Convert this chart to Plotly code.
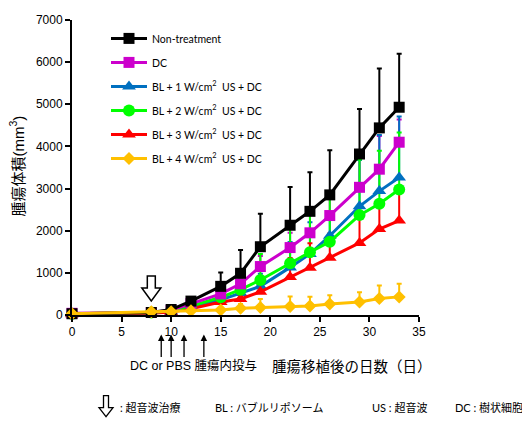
import plotly.graph_objects as go

# ---------------- data ----------------
days = [0, 8, 10, 12, 15, 17, 19, 22, 24, 26, 29, 31, 33]

series_names = [
    "Non-treatment",
    "DC",
    "BL + 1 W/cm<sup>2</sup>  US + DC",
    "BL + 2 W/cm<sup>2</sup>  US + DC",
    "BL + 3 W/cm<sup>2</sup>  US + DC",
    "BL + 4 W/cm<sup>2</sup>  US + DC",
]

nontreat = [30, 60, 130, 330, 680, 990, 1620, 2130, 2460, 2850, 3820, 4440, 4930]
nontreat_err = [0, 20, 30, 90, 330, 550, 780, 910, 930, 1060, 1070, 1410, 1270]

dc = [40, 60, 110, 270, 500, 740, 1150, 1600, 1950, 2360, 3030, 3460, 4100]
dc_err = [0, 15, 25, 60, 100, 150, 250, 350, 450, 550, 670, 790, 540]

bl1 = [30, 50, 90, 180, 360, 520, 680, 1130, 1450, 1880, 2580, 2940, 3260]
bl1_err = [0, 10, 20, 50, 100, 200, 300, 600, 750, 500, 1100, 1330, 1450]

bl2 = [30, 60, 100, 210, 420, 600, 830, 1230, 1490, 1740, 2370, 2640, 2980]
bl2_err = [0, 15, 25, 60, 120, 250, 620, 920, 960, 1160, 1320, 1260, 1350]

bl3 = [20, 40, 70, 150, 310, 380, 550, 900, 1120, 1360, 1710, 2040, 2240]
bl3_err = [0, 10, 20, 40, 100, 150, 340, 450, 580, 575, 660, 590, 740]

bl4 = [30, 80, 80, 100, 120, 160, 180, 200, 215, 260, 310, 390, 430]
bl4_err = [0, 10, 15, 30, 60, 100, 200, 240, 220, 210, 230, 310, 310]

x_ticks = [0, 5, 10, 15, 20, 25, 30, 35]
y_ticks = [0, 1000, 2000, 3000, 4000, 5000, 6000, 7000]

injection_days = [9, 10, 11.3, 13.3]
ultrasound_day = 8

# ---------------- styling ----------------
colors = ["#000000", "#CC00CC", "#0070C0", "#00FF00", "#FF0000", "#FFC000"]
symbols = ["square", "square", "triangle-up", "circle", "triangle-up", "diamond"]
sizes = [11, 11, 12, 12, 12, 10]
values = [nontreat, dc, bl1, bl2, bl3, bl4]
errors = [nontreat_err, dc_err, bl1_err, bl2_err, bl3_err, bl4_err]

OFF = 8  # page offset of the figure (body margin)
W, H = 530, 426
L, T = 72 - OFF, 13 - OFF
PW, PH = 347, 302
R, B = W - L - PW, H - T - PH


def px_x(p):
    return (p - OFF - L) / PW


def px_y(p):
    return (H - B - (p - OFF)) / PH


fig = go.Figure()

# error bars first (drawn beneath all lines and markers)
for i in range(6):
    fig.add_trace(go.Scatter(
        x=days, y=values[i], mode="markers",
        marker=dict(size=1, opacity=0, color=colors[i]),
        error_y=dict(type="data", symmetric=False, array=errors[i],
                     arrayminus=[0] * len(days), color=colors[i],
                     thickness=2, width=2.5),
        showlegend=False, hoverinfo="skip", cliponaxis=False,
    ))

draw_order = [2, 4, 3, 1, 0, 5]
for i in draw_order:
    fig.add_trace(go.Scatter(
        x=days, y=values[i], mode="lines+markers", name=series_names[i],
        line=dict(color=colors[i], width=3),
        marker=dict(symbol=symbols[i], size=sizes[i], color=colors[i]),
        legendgroup="g%d" % i, legendrank=i + 1, cliponaxis=False,
    ))

annotations = []
for d in injection_days:
    annotations.append(dict(
        x=d, xref="x", y=px_y(335), yref="paper", text="", showarrow=True,
        ax=0, ay=24, arrowhead=2, arrowsize=1, arrowwidth=1.3, arrowcolor="black",
    ))

annotations += [
    dict(x=px_x(128), y=px_y(367), xref="paper", yref="paper", xanchor="left",
         yanchor="middle", showarrow=False, text="DC or PBS 腫瘍内投与",
         font=dict(family="Liberation Sans, Noto Sans CJK JP", size=12.5, color="black")),
    dict(x=px_x(352), y=px_y(367), xref="paper", yref="paper", xanchor="center",
         yanchor="middle", showarrow=False, text="腫瘍移植後の日数（日）",
         font=dict(family="Noto Sans CJK JP", size=14.5, color="black")),
    dict(x=px_x(17), y=px_y(163), xref="paper", yref="paper", xanchor="center",
         yanchor="middle", showarrow=False, textangle=-90,
         text="腫瘍体積(mm<sup>3</sup>)",
         font=dict(family="Liberation Sans, Noto Sans CJK JP", size=15, color="black")),
]

bottom_items = [(118, ": 超音波治療"), (213, "BL : バブルリポソーム"),
                (370, "US : 超音波"), (453, "DC : 樹状細胞")]
for xp, t in bottom_items:
    annotations.append(dict(
        x=px_x(xp), y=px_y(410), xref="paper", yref="paper", xanchor="left",
        yanchor="middle", showarrow=False, text=t,
        font=dict(family="Lato, Noto Sans CJK JP", size=11, color="black")))

big_arrow = "M0,14 L-9.5,27 L-4,27 L-4,39 L4,39 L4,27 L9.5,27 Z"
small_arrow = "M0,0 L-7,9 L-2.5,9 L-2.5,21 L2.5,21 L2.5,9 L7,9 Z"
shapes = [
    dict(type="path", xref="x", yref="y", xsizemode="pixel", ysizemode="pixel",
         xanchor=ultrasound_day, yanchor=0, path=big_arrow,
         line=dict(color="black", width=1.5), fillcolor="white", layer="above"),
    dict(type="path", xref="paper", yref="paper", xsizemode="pixel", ysizemode="pixel",
         xanchor=px_x(106), yanchor=px_y(419), path=small_arrow,
         line=dict(color="black", width=1.3), fillcolor="white", layer="above"),
]

axis_common = dict(showline=True, linecolor="black", linewidth=2, ticks="outside",
                   ticklen=5, tickwidth=1.5, tickcolor="black", showgrid=False,
                   zeroline=False, ticklabeloverflow="allow",
                   tickfont=dict(size=12, family="Liberation Sans"))

fig.update_layout(
    width=W, height=H,
    margin=dict(l=L, r=R, t=T, b=B, pad=0),
    paper_bgcolor="white", plot_bgcolor="white",
    font=dict(family="Liberation Sans, Noto Sans CJK JP", color="black"),
    xaxis=dict(range=[0, 35], tickvals=x_ticks, ticktext=[str(v) for v in x_ticks],
               **axis_common),
    yaxis=dict(range=[0, 7000], tickvals=y_ticks, ticktext=[str(v) for v in y_ticks],
               **axis_common),
    legend=dict(x=px_x(106), y=px_y(17), xanchor="left", yanchor="top",
                bgcolor="rgba(0,0,0,0)", borderwidth=0, tracegroupgap=5,
                traceorder="grouped", itemwidth=36,
                font=dict(family="Lato", size=10.5, color="black")),
    annotations=annotations,
    shapes=shapes,
    showlegend=True,
)

fig.write_html("out.html")
